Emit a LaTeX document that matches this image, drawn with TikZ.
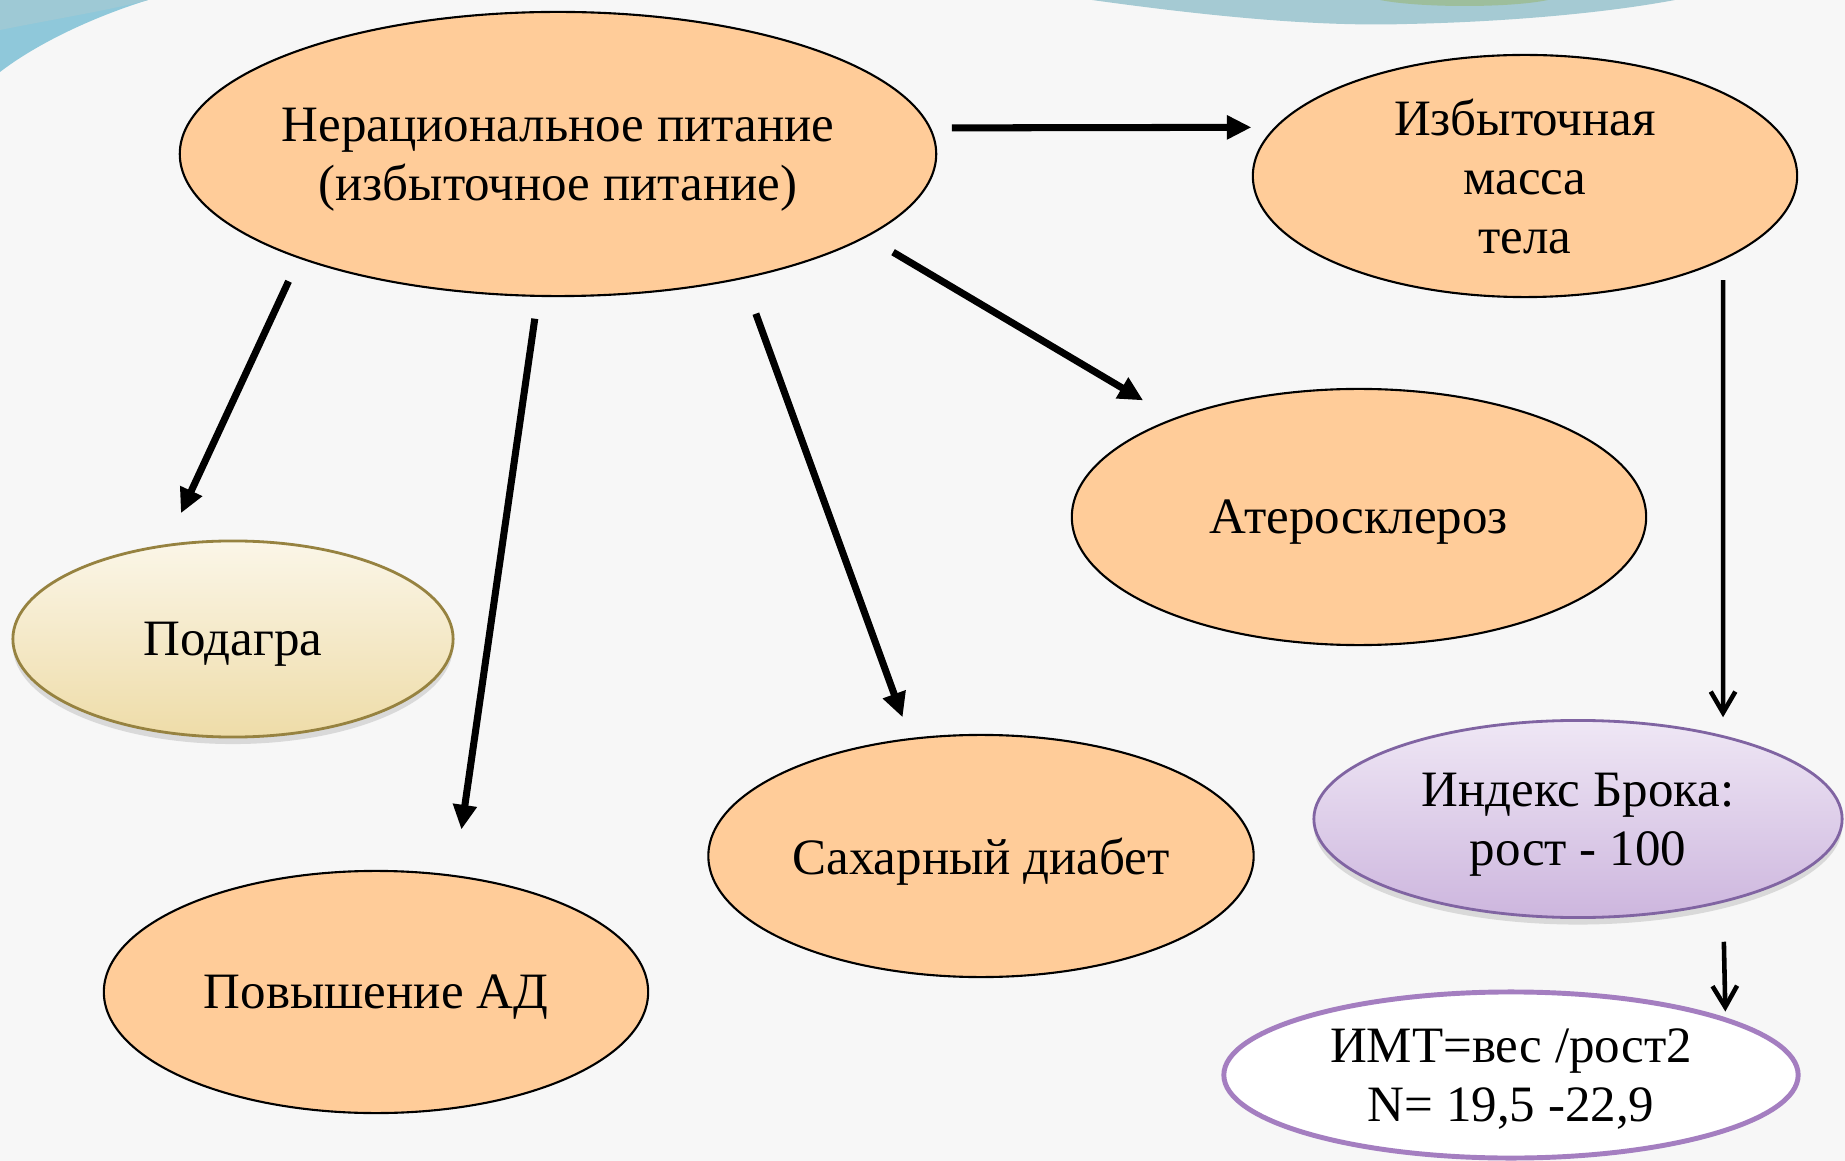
\documentclass[tikz,border=0pt]{standalone}
\usepackage{fontspec}
\setmainfont{Liberation Serif}
\usetikzlibrary{shapes.geometric, arrows}
\usetikzlibrary{positioning}
\usetikzlibrary{arrows.meta}
\usetikzlibrary{shadows}
\usetikzlibrary{backgrounds}

\definecolor{peach}{RGB}{255,204,153}
\definecolor{slidebg}{RGB}{247,247,247}
\definecolor{skyblue}{RGB}{143,200,218}
\definecolor{greyblue}{RGB}{165,202,211}
\definecolor{sagegreen}{RGB}{157,190,156}
\definecolor{creamtop}{RGB}{251,246,232}
\definecolor{creambot}{RGB}{238,220,168}
\definecolor{olive}{RGB}{150,130,64}
\definecolor{lilactop}{RGB}{239,231,245}
\definecolor{lilacbot}{RGB}{205,182,222}
\definecolor{violet}{RGB}{128,100,162}
\definecolor{violetline}{RGB}{164,126,192}

\tikzset{
  every bubble/.style={ellipse, draw, inner sep=0pt, align=center, text depth=0pt,
    font=\fontsize{14.5}{16.8}\selectfont},
  bubble peach/.style={fill=peach, line width=0.6pt},
  bubble gout/.style={top color=creamtop, bottom color=creambot, draw=olive, line width=0.8pt,
    drop shadow={shadow xshift=0pt, shadow yshift=-0.07cm, opacity=0.25}},
  bubble broca/.style={top color=lilactop, bottom color=lilacbot, draw=violet, line width=0.8pt,
    drop shadow={shadow xshift=0pt, shadow yshift=-0.07cm, opacity=0.25}},
  bubble bmi/.style={fill=white, draw=violetline, line width=1.4pt},
  main arrow/.style={-{Triangle[length=7pt, width=6.5pt]}, line width=2pt},
  thin arrow/.style={-{Straight Barb[length=6pt, width=7pt]}, line width=1.3pt}
}

\begin{document}
\begin{tikzpicture}[x=0.01cm, y=-0.01cm, >=stealth]

% Slide background
\useasboundingbox (0,0) rectangle (1845,1161);
\fill[slidebg] (0,0) rectangle (1845,1161);
\fill[skyblue] (0,0) -- (148,0) .. controls (90,18) and (35,45) .. (0,72) -- cycle;
\fill[greyblue!70!skyblue] (0,0) -- (148,0) .. controls (110,10) and (60,18) .. (0,30) -- cycle;
\fill[greyblue] (1092,0) .. controls (1250,22) and (1340,26) .. (1407,24)
  .. controls (1500,22) and (1600,14) .. (1675,0) -- cycle;
\fill[sagegreen] (1380,0) .. controls (1420,8) and (1510,8) .. (1548,0) -- cycle;

% Cause
\node [every bubble/.try, bubble peach/.try, inner xsep=-0.15cm, minimum width=7.56cm, minimum height=2.84cm]
  (main) at (558,154) {Нерациональное питание\\(избыточное питание)};

% Consequences
\node [every bubble/.try, bubble peach/.try, minimum width=5.44cm, minimum height=2.42cm]
  (mass) at (1525,176) {Избыточная\\масса\\тела};
\node [every bubble/.try, bubble peach/.try, minimum width=5.74cm, minimum height=2.56cm]
  (ather) at (1359,517) {Атеросклероз};
\node [every bubble/.try, bubble gout/.try, minimum width=4.40cm, minimum height=1.96cm]
  (gout) at (233,639) {Подагра};
\node [every bubble/.try, bubble peach/.try, minimum width=5.44cm, minimum height=2.42cm]
  (bp) at (376,992) {Повышение АД};
\node [every bubble/.try, bubble peach/.try, minimum width=5.45cm, minimum height=2.42cm]
  (diab) at (981,856) {Сахарный диабет};

% Indices
\node [every bubble/.try, bubble broca/.try, minimum width=5.28cm, minimum height=1.97cm]
  (broca) at (1578,819) {Индекс Брока:\\рост - 100};
\node [every bubble/.try, bubble bmi/.try, minimum width=5.74cm, minimum height=1.66cm]
  (bmi) at (1511,1075) {ИМТ=вес /рост2\\N= 19,5 -22,9};

% Cause to consequences
\foreach \a/\b/\s/\e in {main.4/mass.169/0.21/0.23, main.202/gout.125/0.25/0.34,
    main.262/bp.56/0.22/0.46, main.326/diab.121/0.37/0.22, main.345/ather.152/0.3/0.35}
  \draw [main arrow, shorten <=\s cm, shorten >=\e cm] (\a) -- (\b);

% Mass to indices
\draw [thin arrow, shorten <=0.2cm, shorten >=0.18cm] (mass.337) -- (broca.30);
\draw [thin arrow, shorten <=0.39cm, shorten >=0.06cm] (broca.330) -- (bmi.15);

\end{tikzpicture}
\end{document}
